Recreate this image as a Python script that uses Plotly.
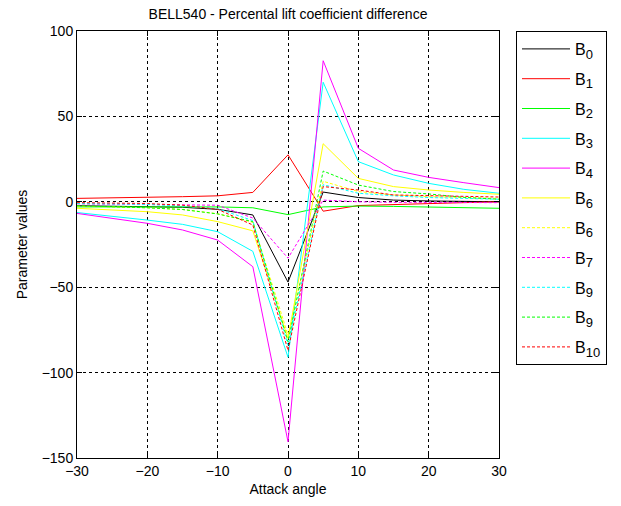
import plotly.graph_objects as go

x = [-30, -25, -20, -15, -10, -5, 0, 5, 10, 15, 20, 25, 30]

B0 = [-2.3, -2.5, -2.8, -3.2, -4.4, -7.7, -47, 5.7, 2.5, 1, 0.5, 0.2, 0]
B1 = [2, 2.2, 2.5, 3, 3.5, 5.5, 27.5, -5.5, -2.2, -1.5, -1, -0.5, 0]
B2 = [-3, -3, -3, -3, -3, -3.5, -7.5, -3, -2.5, -2.7, -3, -3.4, -3.8]
B3 = [-6.3, -8.3, -10.7, -13.2, -17.5, -29, -91, 70, 23.5, 15.7, 10.8, 7.3, 5]
B4 = [-6.8, -9.7, -12.6, -16.5, -22.4, -38, -140.5, 82.6, 31.3, 18.6, 14.3, 11.2, 8.3]
B6 = [-3.8, -4.8, -5.8, -7.7, -11.6, -17, -80, 34, 13.7, 8.9, 6.9, 5.5, 4.4]
B6d = [-2.5, -3, -3.5, -4.5, -7, -12, -78, 12, 6, 4, 3, 2.5, 2]
B7d = [-1.2, -1.3, -1.5, -1.7, -2, -9.5, -33, 1, 0, -0.3, -0.5, -0.5, -0.5]
B9c = [-1, -1.2, -1.5, -2.5, -4, -11, -84, 10, 5, 3.5, 2.5, 2, 1.5]
B9g = [-2.3, -2.8, -3.5, -4.5, -7.1, -11.6, -82, 18, 9.8, 6, 4.6, 2.6, 1.5]
B10 = [-0.5, -0.7, -1, -2, -4.4, -13.6, -87, 8.9, 6.9, 4, 3.6, 3, 2.8]

names = ["0", "1", "2", "3", "4", "6", "6", "7", "9", "9", "10"]
values = [B0, B1, B2, B3, B4, B6, B6d, B7d, B9c, B9g, B10]
colors = ["#000000", "#ff0000", "#00ff00", "#00ffff", "#ff00ff", "#ffff00",
          "#ffff00", "#ff00ff", "#00ffff", "#00ff00", "#ff0000"]
dashes = ["solid"] * 6 + ["3px,2px"] * 5

fig = go.Figure()
for i, (sub, ys, col, dash) in enumerate(zip(names, values, colors, dashes)):
    label = "B<sub><span style='font-size:13px'>" + sub + "</span></sub>"
    fig.add_trace(go.Scatter(x=x, y=ys, mode="lines", name=label,
                             legendgroup=str(i),
                             line=dict(color=col, width=1, dash=dash)))

font = dict(family="Liberation Sans, Arial, sans-serif", size=14, color="#000000")

axis_common = dict(
    showline=True, linecolor="#000000", linewidth=1, mirror="ticks",
    ticks="inside", ticklen=5, tickcolor="#000000",
    showgrid=True, gridcolor="#000000", gridwidth=1, griddash="3px,3px",
    zeroline=False, tickfont=font,
)

fig.update_layout(
    width=621, height=506,
    margin=dict(l=77, r=122, t=31, b=48, autoexpand=False),
    paper_bgcolor="#ffffff", plot_bgcolor="#ffffff",
    font=font,
    title=dict(text="BELL540 - Percental lift coefficient difference",
               x=(77 + 499) / 2 / 621, xanchor="center", y=1 - 14 / 506, yanchor="middle",
               font=dict(family="Liberation Sans, Arial, sans-serif", size=14, color="#000000")),
    xaxis=dict(range=[-30, 30], tickvals=[-30, -20, -10, 0, 10, 20, 30],
               title=dict(text="Attack angle", standoff=6, font=font), **axis_common),
    yaxis=dict(range=[-150, 100], tickvals=[-150, -100, -50, 0, 50, 100],
               title=dict(text="Parameter values", standoff=10, font=font), **axis_common),
    legend=dict(x=(516 - 77) / 422, xanchor="left", y=1, yanchor="top",
                bordercolor="#000000", borderwidth=1, bgcolor="#ffffff",
                traceorder="grouped", tracegroupgap=6, itemwidth=48,
                font=dict(family="Liberation Sans, Arial, sans-serif", size=16, color="#000000")),
    showlegend=True,
)

fig.write_html("out.html")
